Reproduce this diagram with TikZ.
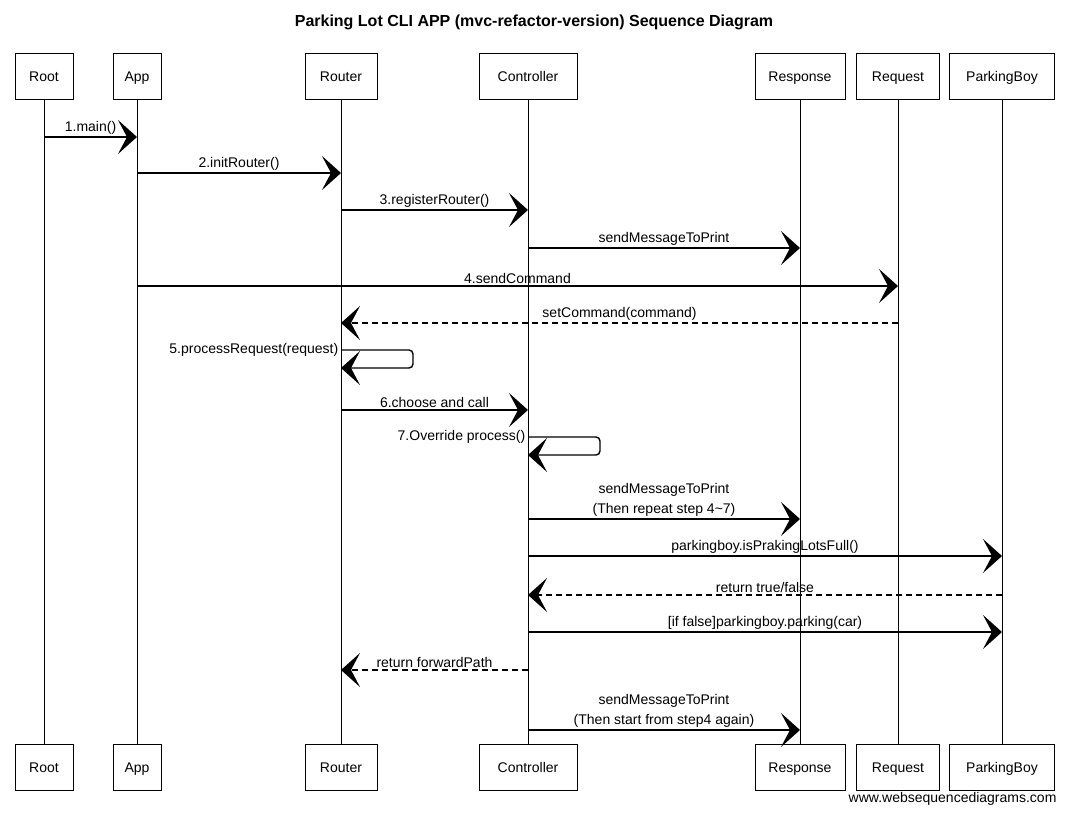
\documentclass[tikz,border=0pt]{standalone}
\usepackage{fontspec}
\setmainfont{Liberation Sans}
\usetikzlibrary{arrows.meta}
\tikzset{
	actor/.style={draw, thick, minimum height=46pt, inner sep=0pt, text height=12pt, text depth=1pt, font=\fontsize{14}{16}\selectfont},
	msg/.style={line width=1.4pt, -{Stealth[length=19pt, width=34pt, inset=9pt]}},
	reply/.style={msg, dash pattern=on 6pt off 4pt},
	lbl/.style={font=\fontsize{14}{20}\selectfont, align=center, inner sep=2pt}
}
\begin{document}
\begin{tikzpicture}[x=1pt, y=-1pt]
	\useasboundingbox[fill=white] (0,0) rectangle (1068,813);
	%title
	\node[font=\fontsize{16}{18}\selectfont\bfseries] (title) at (534,22) {Parking Lot CLI APP (mvc-refactor-version) Sequence Diagram};

	%participants and lifelines
	\foreach \n/\x/\w in {Root/44/58, App/137/48, Router/341/72, Controller/528/98, Response/800/90, Request/898/83, ParkingBoy/1002/105}{
		\node[actor, minimum width=\w pt] (\n-top) at (\x,76) {\n};
		\node[actor, minimum width=\w pt] (\n-bot) at (\x,767) {\n};
		\draw (\n-top) -- (\n-bot);
	}

	%messages
	\draw[msg] (Root-top |- 0,137) -- node[lbl, above]{1.main()} (App-top |- 0,137);
	\draw[msg] (App-top |- 0,173) -- node[lbl, above]{2.initRouter()} (Router-top |- 0,173);
	\draw[msg] (Router-top |- 0,210) -- node[lbl, above]{3.registerRouter()} (Controller-top |- 0,210);
	\draw[msg] (Controller-top |- 0,248) -- node[lbl, above]{sendMessageToPrint} (Response-top |- 0,248);
	\draw[msg] (App-top |- 0,286) -- node[lbl, above]{4.sendCommand} (Request-top |- 0,286);
	\draw[reply] (Request-top |- 0,323) -- node[lbl, above]{setCommand(command)} (Router-top |- 0,323);
	\draw[msg, rounded corners=4pt] (Router-top |- 0,350) node[lbl, left]{5.processRequest(request)} -- ++(72,0) -- ++(0,18) -- (Router-top |- 0,368);
	\draw[msg] (Router-top |- 0,410) -- node[lbl, above]{6.choose and call} (Controller-top |- 0,410);
	\draw[msg, rounded corners=4pt] (Controller-top |- 0,437) node[lbl, left]{7.Override process()} -- ++(72,0) -- ++(0,18) -- (Controller-top |- 0,455);
	\draw[msg] (Controller-top |- 0,519) -- node[lbl, above]{sendMessageToPrint\\(Then repeat step 4\textasciitilde7)} (Response-top |- 0,519);
	\draw[msg] (Controller-top |- 0,556) -- node[lbl, above]{parkingboy.isPrakingLotsFull()} (ParkingBoy-top |- 0,556);
	\draw[reply] (ParkingBoy-top |- 0,595) -- node[lbl, above]{return true/false} (Controller-top |- 0,595);
	\draw[msg] (Controller-top |- 0,632) -- node[lbl, above]{[if false]parkingboy.parking(car)} (ParkingBoy-top |- 0,632);
	\draw[reply] (Controller-top |- 0,670) -- node[lbl, above]{return forwardPath} (Router-top |- 0,670);
	\draw[msg] (Controller-top |- 0,730) -- node[lbl, above]{sendMessageToPrint\\(Then start from step4 again)} (Response-top |- 0,730);

	%watermark
	\node[font=\fontsize{14}{16}\selectfont, anchor=east] (mark) at (1060,799) {www.websequencediagrams.com};
\end{tikzpicture}
\end{document}
